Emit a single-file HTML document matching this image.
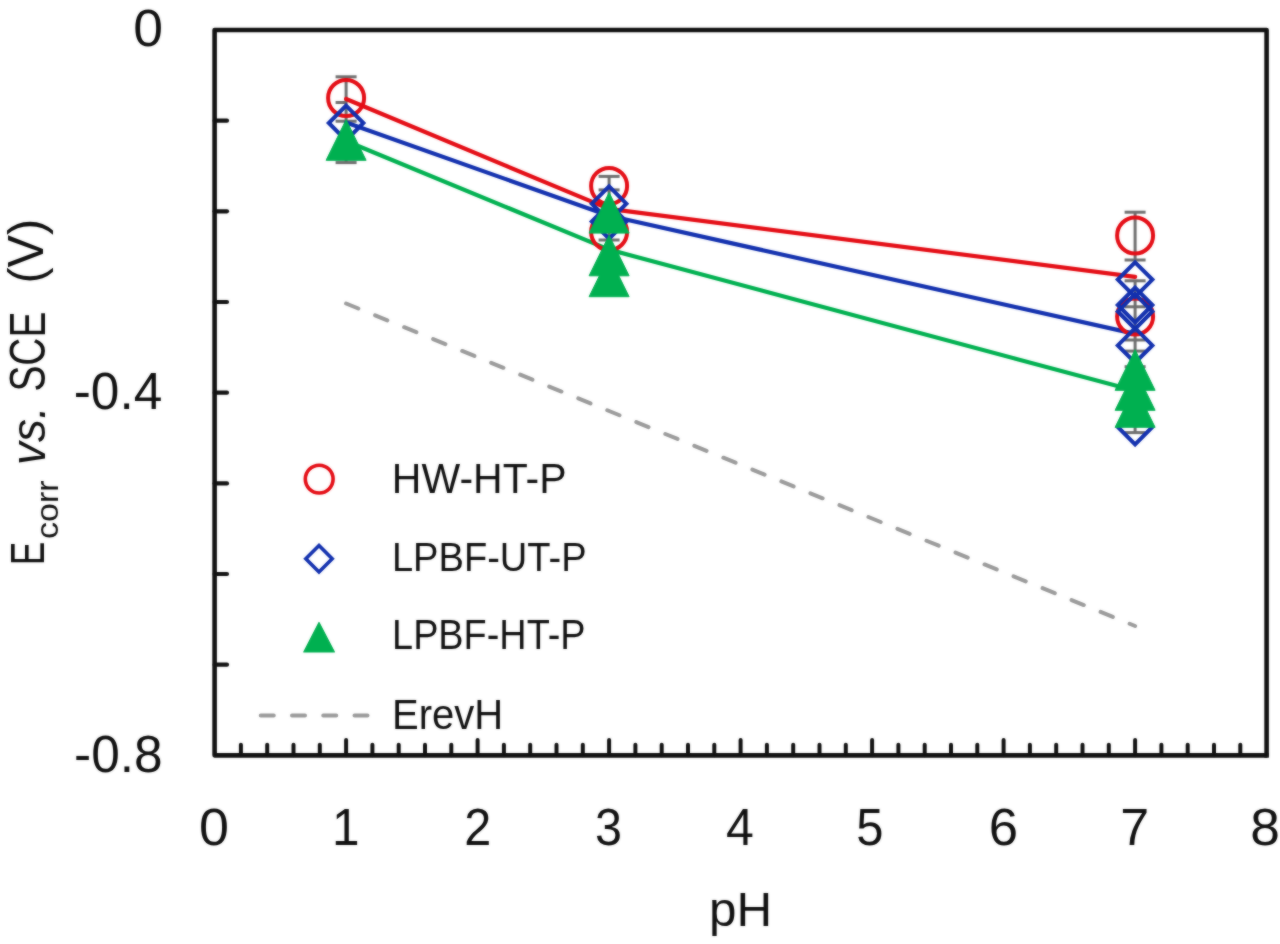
<!DOCTYPE html>
<html><head><meta charset="utf-8"><style>
html,body{margin:0;padding:0;background:#fff;}
body{width:1280px;height:944px;overflow:hidden;position:relative;}
svg{display:block;}
.l1,.l2,.l3{position:absolute;left:0;top:0;width:1280px;height:944px;}
.l1{will-change:transform;}
.l2{filter:blur(0.8px);opacity:0.5;}
.l3{filter:blur(0.8px);}
</style></head><body>
<div class="l1"><svg width="1280" height="944" viewBox="0 0 1280 944">
<rect width="1280" height="944" fill="#fff"/>
<line x1="346.1" y1="76.8" x2="346.1" y2="162.6" stroke="#6e6e6e" stroke-width="3"/>
<line x1="335.6" y1="76.8" x2="356.6" y2="76.8" stroke="#6e6e6e" stroke-width="3"/>
<line x1="335.6" y1="121.2" x2="356.6" y2="121.2" stroke="#6e6e6e" stroke-width="3"/>
<line x1="335.6" y1="162.6" x2="356.6" y2="162.6" stroke="#6e6e6e" stroke-width="3"/>
<line x1="335.6" y1="102.5" x2="346.1" y2="102.5" stroke="#6e6e6e" stroke-width="3"/>
<line x1="609.1" y1="176.4" x2="609.1" y2="240" stroke="#6e6e6e" stroke-width="3"/>
<line x1="598.6" y1="176.4" x2="619.6" y2="176.4" stroke="#6e6e6e" stroke-width="3"/>
<line x1="598.6" y1="189.9" x2="619.6" y2="189.9" stroke="#6e6e6e" stroke-width="3"/>
<line x1="598.6" y1="240" x2="619.6" y2="240" stroke="#6e6e6e" stroke-width="3"/>
<line x1="1135.1" y1="212.2" x2="1135.1" y2="260" stroke="#6e6e6e" stroke-width="3"/>
<line x1="1124.6" y1="212.2" x2="1145.6" y2="212.2" stroke="#6e6e6e" stroke-width="3"/>
<line x1="1124.6" y1="260" x2="1145.6" y2="260" stroke="#6e6e6e" stroke-width="3"/>
<line x1="1135.1" y1="280.8" x2="1135.1" y2="432.6" stroke="#6e6e6e" stroke-width="3"/>
<line x1="1124.6" y1="280.8" x2="1145.6" y2="280.8" stroke="#6e6e6e" stroke-width="3"/>
<line x1="1124.6" y1="306.8" x2="1145.6" y2="306.8" stroke="#6e6e6e" stroke-width="3"/>
<line x1="1124.6" y1="340" x2="1145.6" y2="340" stroke="#6e6e6e" stroke-width="3"/>
<line x1="1124.6" y1="351.1" x2="1145.6" y2="351.1" stroke="#6e6e6e" stroke-width="3"/>
<line x1="1124.6" y1="366.7" x2="1145.6" y2="366.7" stroke="#6e6e6e" stroke-width="3"/>
<line x1="1124.6" y1="432.6" x2="1145.6" y2="432.6" stroke="#6e6e6e" stroke-width="3"/>
<line x1="346.1" y1="303.5" x2="1135.1" y2="626" stroke="#9a9a9a" stroke-width="4" stroke-dasharray="13.2 18.15" stroke-linecap="round"/>
<polyline points="346.1,99 609.1,208.9 1135.1,276.8" fill="none" stroke="#e40c14" stroke-width="4.2" stroke-linecap="round" stroke-linejoin="round"/>
<polyline points="346.1,122.6 609.1,215.7 1135.1,333.9" fill="none" stroke="#1230ae" stroke-width="4.2" stroke-linecap="round" stroke-linejoin="round"/>
<polyline points="346.1,141 609.1,249.6 1135.1,390.8" fill="none" stroke="#00b050" stroke-width="4.2" stroke-linecap="round" stroke-linejoin="round"/>
<circle cx="346.1" cy="98" r="18" fill="none" stroke="#e40c14" stroke-width="4"/>
<circle cx="609.1" cy="185.9" r="18" fill="none" stroke="#e40c14" stroke-width="4"/>
<circle cx="609.1" cy="232" r="18" fill="none" stroke="#e40c14" stroke-width="4"/>
<circle cx="1135.1" cy="235.5" r="18" fill="none" stroke="#e40c14" stroke-width="4"/>
<circle cx="1135.1" cy="316.5" r="18" fill="none" stroke="#e40c14" stroke-width="4"/>
<path d="M346.1 105.7L363.40000000000003 123L346.1 140.3L328.8 123Z" fill="none" stroke="#1230ae" stroke-width="4" stroke-linejoin="miter"/>
<path d="M609.1 186.39999999999998L626.4 203.7L609.1 221.0L591.8000000000001 203.7Z" fill="none" stroke="#1230ae" stroke-width="4" stroke-linejoin="miter"/>
<path d="M609.1 204.1L626.4 221.4L609.1 238.70000000000002L591.8000000000001 221.4Z" fill="none" stroke="#1230ae" stroke-width="4" stroke-linejoin="miter"/>
<path d="M1135.1 262.3L1152.3999999999999 279.6L1135.1 296.90000000000003L1117.8 279.6Z" fill="none" stroke="#1230ae" stroke-width="4" stroke-linejoin="miter"/>
<path d="M1135.1 287.7L1152.3999999999999 305L1135.1 322.3L1117.8 305Z" fill="none" stroke="#1230ae" stroke-width="4" stroke-linejoin="miter"/>
<path d="M1135.1 294.2L1152.3999999999999 311.5L1135.1 328.8L1117.8 311.5Z" fill="none" stroke="#1230ae" stroke-width="4" stroke-linejoin="miter"/>
<path d="M1135.1 328.09999999999997L1152.3999999999999 345.4L1135.1 362.7L1117.8 345.4Z" fill="none" stroke="#1230ae" stroke-width="4" stroke-linejoin="miter"/>
<path d="M1135.1 409.7L1152.3999999999999 427L1135.1 444.3L1117.8 427Z" fill="none" stroke="#1230ae" stroke-width="4" stroke-linejoin="miter"/>
<path d="M346.1 119.7L366.1 160.3L326.1 160.3Z" fill="#00b050" stroke="#00b050" stroke-width="1" stroke-linejoin="round"/>
<path d="M609.1 192.5L629.1 233.10000000000002L589.1 233.10000000000002Z" fill="#00b050" stroke="#00b050" stroke-width="1" stroke-linejoin="round"/>
<path d="M609.1 235.2L629.1 275.8L589.1 275.8Z" fill="#00b050" stroke="#00b050" stroke-width="1" stroke-linejoin="round"/>
<path d="M609.1 256.09999999999997L629.1 296.7L589.1 296.7Z" fill="#00b050" stroke="#00b050" stroke-width="1" stroke-linejoin="round"/>
<path d="M1135.1 349.7L1155.1 390.3L1115.1 390.3Z" fill="#00b050" stroke="#00b050" stroke-width="1" stroke-linejoin="round"/>
<path d="M1135.1 369.7L1155.1 410.3L1115.1 410.3Z" fill="#00b050" stroke="#00b050" stroke-width="1" stroke-linejoin="round"/>
<path d="M1135.1 386.7L1155.1 427.3L1115.1 427.3Z" fill="#00b050" stroke="#00b050" stroke-width="1" stroke-linejoin="round"/>
<rect x="214.6" y="30.0" width="1052.0" height="725.3600000000001" fill="none" stroke="#111" stroke-width="4.6" stroke-linejoin="round"/>
<rect x="1264.3" y="753.1" width="4.6" height="4.6" fill="#111"/>
<line x1="214.6" y1="120.7" x2="227" y2="120.7" stroke="#111" stroke-width="4.2" stroke-linecap="round"/>
<line x1="214.6" y1="211.3" x2="227" y2="211.3" stroke="#111" stroke-width="4.2" stroke-linecap="round"/>
<line x1="214.6" y1="302.0" x2="227" y2="302.0" stroke="#111" stroke-width="4.2" stroke-linecap="round"/>
<line x1="214.6" y1="392.7" x2="227" y2="392.7" stroke="#111" stroke-width="4.2" stroke-linecap="round"/>
<line x1="214.6" y1="483.4" x2="227" y2="483.4" stroke="#111" stroke-width="4.2" stroke-linecap="round"/>
<line x1="214.6" y1="574.0" x2="227" y2="574.0" stroke="#111" stroke-width="4.2" stroke-linecap="round"/>
<line x1="214.6" y1="664.7" x2="227" y2="664.7" stroke="#111" stroke-width="4.2" stroke-linecap="round"/>
<line x1="240.9" y1="755.3600000000001" x2="240.9" y2="744.7" stroke="#111" stroke-width="4" stroke-linecap="round"/>
<line x1="267.2" y1="755.3600000000001" x2="267.2" y2="744.7" stroke="#111" stroke-width="4" stroke-linecap="round"/>
<line x1="293.5" y1="755.3600000000001" x2="293.5" y2="744.7" stroke="#111" stroke-width="4" stroke-linecap="round"/>
<line x1="319.8" y1="755.3600000000001" x2="319.8" y2="744.7" stroke="#111" stroke-width="4" stroke-linecap="round"/>
<line x1="346.1" y1="755.3600000000001" x2="346.1" y2="740" stroke="#111" stroke-width="4" stroke-linecap="round"/>
<line x1="372.4" y1="755.3600000000001" x2="372.4" y2="744.7" stroke="#111" stroke-width="4" stroke-linecap="round"/>
<line x1="398.7" y1="755.3600000000001" x2="398.7" y2="744.7" stroke="#111" stroke-width="4" stroke-linecap="round"/>
<line x1="425.0" y1="755.3600000000001" x2="425.0" y2="744.7" stroke="#111" stroke-width="4" stroke-linecap="round"/>
<line x1="451.3" y1="755.3600000000001" x2="451.3" y2="744.7" stroke="#111" stroke-width="4" stroke-linecap="round"/>
<line x1="477.6" y1="755.3600000000001" x2="477.6" y2="740" stroke="#111" stroke-width="4" stroke-linecap="round"/>
<line x1="503.9" y1="755.3600000000001" x2="503.9" y2="744.7" stroke="#111" stroke-width="4" stroke-linecap="round"/>
<line x1="530.2" y1="755.3600000000001" x2="530.2" y2="744.7" stroke="#111" stroke-width="4" stroke-linecap="round"/>
<line x1="556.5" y1="755.3600000000001" x2="556.5" y2="744.7" stroke="#111" stroke-width="4" stroke-linecap="round"/>
<line x1="582.8" y1="755.3600000000001" x2="582.8" y2="744.7" stroke="#111" stroke-width="4" stroke-linecap="round"/>
<line x1="609.1" y1="755.3600000000001" x2="609.1" y2="740" stroke="#111" stroke-width="4" stroke-linecap="round"/>
<line x1="635.4" y1="755.3600000000001" x2="635.4" y2="744.7" stroke="#111" stroke-width="4" stroke-linecap="round"/>
<line x1="661.7" y1="755.3600000000001" x2="661.7" y2="744.7" stroke="#111" stroke-width="4" stroke-linecap="round"/>
<line x1="688.0" y1="755.3600000000001" x2="688.0" y2="744.7" stroke="#111" stroke-width="4" stroke-linecap="round"/>
<line x1="714.3" y1="755.3600000000001" x2="714.3" y2="744.7" stroke="#111" stroke-width="4" stroke-linecap="round"/>
<line x1="740.6" y1="755.3600000000001" x2="740.6" y2="740" stroke="#111" stroke-width="4" stroke-linecap="round"/>
<line x1="766.9" y1="755.3600000000001" x2="766.9" y2="744.7" stroke="#111" stroke-width="4" stroke-linecap="round"/>
<line x1="793.2" y1="755.3600000000001" x2="793.2" y2="744.7" stroke="#111" stroke-width="4" stroke-linecap="round"/>
<line x1="819.5" y1="755.3600000000001" x2="819.5" y2="744.7" stroke="#111" stroke-width="4" stroke-linecap="round"/>
<line x1="845.8" y1="755.3600000000001" x2="845.8" y2="744.7" stroke="#111" stroke-width="4" stroke-linecap="round"/>
<line x1="872.1" y1="755.3600000000001" x2="872.1" y2="740" stroke="#111" stroke-width="4" stroke-linecap="round"/>
<line x1="898.4" y1="755.3600000000001" x2="898.4" y2="744.7" stroke="#111" stroke-width="4" stroke-linecap="round"/>
<line x1="924.7" y1="755.3600000000001" x2="924.7" y2="744.7" stroke="#111" stroke-width="4" stroke-linecap="round"/>
<line x1="951.0" y1="755.3600000000001" x2="951.0" y2="744.7" stroke="#111" stroke-width="4" stroke-linecap="round"/>
<line x1="977.3" y1="755.3600000000001" x2="977.3" y2="744.7" stroke="#111" stroke-width="4" stroke-linecap="round"/>
<line x1="1003.6" y1="755.3600000000001" x2="1003.6" y2="740" stroke="#111" stroke-width="4" stroke-linecap="round"/>
<line x1="1029.9" y1="755.3600000000001" x2="1029.9" y2="744.7" stroke="#111" stroke-width="4" stroke-linecap="round"/>
<line x1="1056.2" y1="755.3600000000001" x2="1056.2" y2="744.7" stroke="#111" stroke-width="4" stroke-linecap="round"/>
<line x1="1082.5" y1="755.3600000000001" x2="1082.5" y2="744.7" stroke="#111" stroke-width="4" stroke-linecap="round"/>
<line x1="1108.8" y1="755.3600000000001" x2="1108.8" y2="744.7" stroke="#111" stroke-width="4" stroke-linecap="round"/>
<line x1="1135.1" y1="755.3600000000001" x2="1135.1" y2="740" stroke="#111" stroke-width="4" stroke-linecap="round"/>
<line x1="1161.4" y1="755.3600000000001" x2="1161.4" y2="744.7" stroke="#111" stroke-width="4" stroke-linecap="round"/>
<line x1="1187.7" y1="755.3600000000001" x2="1187.7" y2="744.7" stroke="#111" stroke-width="4" stroke-linecap="round"/>
<line x1="1214.0" y1="755.3600000000001" x2="1214.0" y2="744.7" stroke="#111" stroke-width="4" stroke-linecap="round"/>
<line x1="1240.3" y1="755.3600000000001" x2="1240.3" y2="744.7" stroke="#111" stroke-width="4" stroke-linecap="round"/>
<circle cx="319.2" cy="479.1" r="13.9" fill="none" stroke="#e40c14" stroke-width="3.6"/>
<path d="M319 545.5999999999999L332.2 558.8L319 572.0L305.8 558.8Z" fill="none" stroke="#1230ae" stroke-width="3.6" stroke-linejoin="miter"/>
<path d="M319 622.5L334.4 652L303.8 652Z" fill="#00b050" stroke="#00b050" stroke-width="1.2" stroke-linejoin="round"/>
<line x1="260.75" y1="715.5" x2="368" y2="715.5" stroke="#9a9a9a" stroke-width="4" stroke-dasharray="13 18.25" stroke-linecap="round"/>
<g font-family="Liberation Sans, sans-serif" fill="#111">
<text x="391.80" y="492.60" font-size="43.17" textLength="174.70" lengthAdjust="spacingAndGlyphs">HW-HT-P</text>
<text x="391.90" y="570.70" font-size="41.22" textLength="194.68" lengthAdjust="spacingAndGlyphs">LPBF-UT-P</text>
<text x="392.10" y="648.90" font-size="43.17" textLength="193.39" lengthAdjust="spacingAndGlyphs">LPBF-HT-P</text>
<text x="392.10" y="729.30" font-size="42.91" textLength="111.15" lengthAdjust="spacingAndGlyphs">ErevH</text>
<text x="133.30" y="45.50" font-size="52.29" textLength="29.77" lengthAdjust="spacingAndGlyphs">0</text>
<text x="73.70" y="408.70" font-size="51.46" textLength="88.59" lengthAdjust="spacingAndGlyphs">-0.4</text>
<text x="74.10" y="772.20" font-size="50.88" textLength="88.60" lengthAdjust="spacingAndGlyphs">-0.8</text>
<text x="709.00" y="926.00" font-size="48.93" textLength="63.16" lengthAdjust="spacingAndGlyphs">pH</text>
<text x="199.10" y="844.70" font-size="50.88" textLength="29.99" lengthAdjust="spacingAndGlyphs">0</text>
<text x="332.00" y="844.70" font-size="50.88" textLength="27.53" lengthAdjust="spacingAndGlyphs">1</text>
<text x="464.25" y="844.70" font-size="50.88" textLength="27.03" lengthAdjust="spacingAndGlyphs">2</text>
<text x="595.00" y="844.70" font-size="50.88" textLength="26.97" lengthAdjust="spacingAndGlyphs">3</text>
<text x="726.00" y="844.70" font-size="50.88" textLength="27.84" lengthAdjust="spacingAndGlyphs">4</text>
<text x="856.25" y="844.70" font-size="50.88" textLength="27.23" lengthAdjust="spacingAndGlyphs">5</text>
<text x="988.75" y="844.70" font-size="50.88" textLength="29.31" lengthAdjust="spacingAndGlyphs">6</text>
<text x="1120.20" y="844.70" font-size="50.88" textLength="28.93" lengthAdjust="spacingAndGlyphs">7</text>
<text x="1250.20" y="844.70" font-size="50.88" textLength="29.64" lengthAdjust="spacingAndGlyphs">8</text>
<g transform="translate(46,563) rotate(-90)">
<text x="-1.90" y="-1.80" font-size="48.44" textLength="23.32" lengthAdjust="spacingAndGlyphs">E</text>
<text x="24.00" y="12.20" font-size="31.70" textLength="58.62" lengthAdjust="spacingAndGlyphs">corr</text>
<text x="98.10" y="-0.80" font-size="48.75" font-style="italic" textLength="58.58" lengthAdjust="spacingAndGlyphs">vs.</text>
<text x="171.40" y="-1.00" font-size="50.00" textLength="79.96" lengthAdjust="spacingAndGlyphs">SCE</text>
<text x="279.40" y="-2.80" font-size="49.81" textLength="64.67" lengthAdjust="spacingAndGlyphs">(V)</text>
</g>
</g>
</svg></div><div class="l2"><svg width="1280" height="944" viewBox="0 0 1280 944">
<rect width="1280" height="944" fill="#fff"/>
<line x1="346.1" y1="76.8" x2="346.1" y2="162.6" stroke="#6e6e6e" stroke-width="3"/>
<line x1="335.6" y1="76.8" x2="356.6" y2="76.8" stroke="#6e6e6e" stroke-width="3"/>
<line x1="335.6" y1="121.2" x2="356.6" y2="121.2" stroke="#6e6e6e" stroke-width="3"/>
<line x1="335.6" y1="162.6" x2="356.6" y2="162.6" stroke="#6e6e6e" stroke-width="3"/>
<line x1="335.6" y1="102.5" x2="346.1" y2="102.5" stroke="#6e6e6e" stroke-width="3"/>
<line x1="609.1" y1="176.4" x2="609.1" y2="240" stroke="#6e6e6e" stroke-width="3"/>
<line x1="598.6" y1="176.4" x2="619.6" y2="176.4" stroke="#6e6e6e" stroke-width="3"/>
<line x1="598.6" y1="189.9" x2="619.6" y2="189.9" stroke="#6e6e6e" stroke-width="3"/>
<line x1="598.6" y1="240" x2="619.6" y2="240" stroke="#6e6e6e" stroke-width="3"/>
<line x1="1135.1" y1="212.2" x2="1135.1" y2="260" stroke="#6e6e6e" stroke-width="3"/>
<line x1="1124.6" y1="212.2" x2="1145.6" y2="212.2" stroke="#6e6e6e" stroke-width="3"/>
<line x1="1124.6" y1="260" x2="1145.6" y2="260" stroke="#6e6e6e" stroke-width="3"/>
<line x1="1135.1" y1="280.8" x2="1135.1" y2="432.6" stroke="#6e6e6e" stroke-width="3"/>
<line x1="1124.6" y1="280.8" x2="1145.6" y2="280.8" stroke="#6e6e6e" stroke-width="3"/>
<line x1="1124.6" y1="306.8" x2="1145.6" y2="306.8" stroke="#6e6e6e" stroke-width="3"/>
<line x1="1124.6" y1="340" x2="1145.6" y2="340" stroke="#6e6e6e" stroke-width="3"/>
<line x1="1124.6" y1="351.1" x2="1145.6" y2="351.1" stroke="#6e6e6e" stroke-width="3"/>
<line x1="1124.6" y1="366.7" x2="1145.6" y2="366.7" stroke="#6e6e6e" stroke-width="3"/>
<line x1="1124.6" y1="432.6" x2="1145.6" y2="432.6" stroke="#6e6e6e" stroke-width="3"/>
<line x1="346.1" y1="303.5" x2="1135.1" y2="626" stroke="#9a9a9a" stroke-width="4" stroke-dasharray="13.2 18.15" stroke-linecap="round"/>
<polyline points="346.1,99 609.1,208.9 1135.1,276.8" fill="none" stroke="#e40c14" stroke-width="4.2" stroke-linecap="round" stroke-linejoin="round"/>
<polyline points="346.1,122.6 609.1,215.7 1135.1,333.9" fill="none" stroke="#1230ae" stroke-width="4.2" stroke-linecap="round" stroke-linejoin="round"/>
<polyline points="346.1,141 609.1,249.6 1135.1,390.8" fill="none" stroke="#00b050" stroke-width="4.2" stroke-linecap="round" stroke-linejoin="round"/>
<circle cx="346.1" cy="98" r="18" fill="none" stroke="#e40c14" stroke-width="4"/>
<circle cx="609.1" cy="185.9" r="18" fill="none" stroke="#e40c14" stroke-width="4"/>
<circle cx="609.1" cy="232" r="18" fill="none" stroke="#e40c14" stroke-width="4"/>
<circle cx="1135.1" cy="235.5" r="18" fill="none" stroke="#e40c14" stroke-width="4"/>
<circle cx="1135.1" cy="316.5" r="18" fill="none" stroke="#e40c14" stroke-width="4"/>
<path d="M346.1 105.7L363.40000000000003 123L346.1 140.3L328.8 123Z" fill="none" stroke="#1230ae" stroke-width="4" stroke-linejoin="miter"/>
<path d="M609.1 186.39999999999998L626.4 203.7L609.1 221.0L591.8000000000001 203.7Z" fill="none" stroke="#1230ae" stroke-width="4" stroke-linejoin="miter"/>
<path d="M609.1 204.1L626.4 221.4L609.1 238.70000000000002L591.8000000000001 221.4Z" fill="none" stroke="#1230ae" stroke-width="4" stroke-linejoin="miter"/>
<path d="M1135.1 262.3L1152.3999999999999 279.6L1135.1 296.90000000000003L1117.8 279.6Z" fill="none" stroke="#1230ae" stroke-width="4" stroke-linejoin="miter"/>
<path d="M1135.1 287.7L1152.3999999999999 305L1135.1 322.3L1117.8 305Z" fill="none" stroke="#1230ae" stroke-width="4" stroke-linejoin="miter"/>
<path d="M1135.1 294.2L1152.3999999999999 311.5L1135.1 328.8L1117.8 311.5Z" fill="none" stroke="#1230ae" stroke-width="4" stroke-linejoin="miter"/>
<path d="M1135.1 328.09999999999997L1152.3999999999999 345.4L1135.1 362.7L1117.8 345.4Z" fill="none" stroke="#1230ae" stroke-width="4" stroke-linejoin="miter"/>
<path d="M1135.1 409.7L1152.3999999999999 427L1135.1 444.3L1117.8 427Z" fill="none" stroke="#1230ae" stroke-width="4" stroke-linejoin="miter"/>
<path d="M346.1 119.7L366.1 160.3L326.1 160.3Z" fill="#00b050" stroke="#00b050" stroke-width="1" stroke-linejoin="round"/>
<path d="M609.1 192.5L629.1 233.10000000000002L589.1 233.10000000000002Z" fill="#00b050" stroke="#00b050" stroke-width="1" stroke-linejoin="round"/>
<path d="M609.1 235.2L629.1 275.8L589.1 275.8Z" fill="#00b050" stroke="#00b050" stroke-width="1" stroke-linejoin="round"/>
<path d="M609.1 256.09999999999997L629.1 296.7L589.1 296.7Z" fill="#00b050" stroke="#00b050" stroke-width="1" stroke-linejoin="round"/>
<path d="M1135.1 349.7L1155.1 390.3L1115.1 390.3Z" fill="#00b050" stroke="#00b050" stroke-width="1" stroke-linejoin="round"/>
<path d="M1135.1 369.7L1155.1 410.3L1115.1 410.3Z" fill="#00b050" stroke="#00b050" stroke-width="1" stroke-linejoin="round"/>
<path d="M1135.1 386.7L1155.1 427.3L1115.1 427.3Z" fill="#00b050" stroke="#00b050" stroke-width="1" stroke-linejoin="round"/>
<rect x="214.6" y="30.0" width="1052.0" height="725.3600000000001" fill="none" stroke="#111" stroke-width="4.6" stroke-linejoin="round"/>
<rect x="1264.3" y="753.1" width="4.6" height="4.6" fill="#111"/>
<line x1="214.6" y1="120.7" x2="227" y2="120.7" stroke="#111" stroke-width="4.2" stroke-linecap="round"/>
<line x1="214.6" y1="211.3" x2="227" y2="211.3" stroke="#111" stroke-width="4.2" stroke-linecap="round"/>
<line x1="214.6" y1="302.0" x2="227" y2="302.0" stroke="#111" stroke-width="4.2" stroke-linecap="round"/>
<line x1="214.6" y1="392.7" x2="227" y2="392.7" stroke="#111" stroke-width="4.2" stroke-linecap="round"/>
<line x1="214.6" y1="483.4" x2="227" y2="483.4" stroke="#111" stroke-width="4.2" stroke-linecap="round"/>
<line x1="214.6" y1="574.0" x2="227" y2="574.0" stroke="#111" stroke-width="4.2" stroke-linecap="round"/>
<line x1="214.6" y1="664.7" x2="227" y2="664.7" stroke="#111" stroke-width="4.2" stroke-linecap="round"/>
<line x1="240.9" y1="755.3600000000001" x2="240.9" y2="744.7" stroke="#111" stroke-width="4" stroke-linecap="round"/>
<line x1="267.2" y1="755.3600000000001" x2="267.2" y2="744.7" stroke="#111" stroke-width="4" stroke-linecap="round"/>
<line x1="293.5" y1="755.3600000000001" x2="293.5" y2="744.7" stroke="#111" stroke-width="4" stroke-linecap="round"/>
<line x1="319.8" y1="755.3600000000001" x2="319.8" y2="744.7" stroke="#111" stroke-width="4" stroke-linecap="round"/>
<line x1="346.1" y1="755.3600000000001" x2="346.1" y2="740" stroke="#111" stroke-width="4" stroke-linecap="round"/>
<line x1="372.4" y1="755.3600000000001" x2="372.4" y2="744.7" stroke="#111" stroke-width="4" stroke-linecap="round"/>
<line x1="398.7" y1="755.3600000000001" x2="398.7" y2="744.7" stroke="#111" stroke-width="4" stroke-linecap="round"/>
<line x1="425.0" y1="755.3600000000001" x2="425.0" y2="744.7" stroke="#111" stroke-width="4" stroke-linecap="round"/>
<line x1="451.3" y1="755.3600000000001" x2="451.3" y2="744.7" stroke="#111" stroke-width="4" stroke-linecap="round"/>
<line x1="477.6" y1="755.3600000000001" x2="477.6" y2="740" stroke="#111" stroke-width="4" stroke-linecap="round"/>
<line x1="503.9" y1="755.3600000000001" x2="503.9" y2="744.7" stroke="#111" stroke-width="4" stroke-linecap="round"/>
<line x1="530.2" y1="755.3600000000001" x2="530.2" y2="744.7" stroke="#111" stroke-width="4" stroke-linecap="round"/>
<line x1="556.5" y1="755.3600000000001" x2="556.5" y2="744.7" stroke="#111" stroke-width="4" stroke-linecap="round"/>
<line x1="582.8" y1="755.3600000000001" x2="582.8" y2="744.7" stroke="#111" stroke-width="4" stroke-linecap="round"/>
<line x1="609.1" y1="755.3600000000001" x2="609.1" y2="740" stroke="#111" stroke-width="4" stroke-linecap="round"/>
<line x1="635.4" y1="755.3600000000001" x2="635.4" y2="744.7" stroke="#111" stroke-width="4" stroke-linecap="round"/>
<line x1="661.7" y1="755.3600000000001" x2="661.7" y2="744.7" stroke="#111" stroke-width="4" stroke-linecap="round"/>
<line x1="688.0" y1="755.3600000000001" x2="688.0" y2="744.7" stroke="#111" stroke-width="4" stroke-linecap="round"/>
<line x1="714.3" y1="755.3600000000001" x2="714.3" y2="744.7" stroke="#111" stroke-width="4" stroke-linecap="round"/>
<line x1="740.6" y1="755.3600000000001" x2="740.6" y2="740" stroke="#111" stroke-width="4" stroke-linecap="round"/>
<line x1="766.9" y1="755.3600000000001" x2="766.9" y2="744.7" stroke="#111" stroke-width="4" stroke-linecap="round"/>
<line x1="793.2" y1="755.3600000000001" x2="793.2" y2="744.7" stroke="#111" stroke-width="4" stroke-linecap="round"/>
<line x1="819.5" y1="755.3600000000001" x2="819.5" y2="744.7" stroke="#111" stroke-width="4" stroke-linecap="round"/>
<line x1="845.8" y1="755.3600000000001" x2="845.8" y2="744.7" stroke="#111" stroke-width="4" stroke-linecap="round"/>
<line x1="872.1" y1="755.3600000000001" x2="872.1" y2="740" stroke="#111" stroke-width="4" stroke-linecap="round"/>
<line x1="898.4" y1="755.3600000000001" x2="898.4" y2="744.7" stroke="#111" stroke-width="4" stroke-linecap="round"/>
<line x1="924.7" y1="755.3600000000001" x2="924.7" y2="744.7" stroke="#111" stroke-width="4" stroke-linecap="round"/>
<line x1="951.0" y1="755.3600000000001" x2="951.0" y2="744.7" stroke="#111" stroke-width="4" stroke-linecap="round"/>
<line x1="977.3" y1="755.3600000000001" x2="977.3" y2="744.7" stroke="#111" stroke-width="4" stroke-linecap="round"/>
<line x1="1003.6" y1="755.3600000000001" x2="1003.6" y2="740" stroke="#111" stroke-width="4" stroke-linecap="round"/>
<line x1="1029.9" y1="755.3600000000001" x2="1029.9" y2="744.7" stroke="#111" stroke-width="4" stroke-linecap="round"/>
<line x1="1056.2" y1="755.3600000000001" x2="1056.2" y2="744.7" stroke="#111" stroke-width="4" stroke-linecap="round"/>
<line x1="1082.5" y1="755.3600000000001" x2="1082.5" y2="744.7" stroke="#111" stroke-width="4" stroke-linecap="round"/>
<line x1="1108.8" y1="755.3600000000001" x2="1108.8" y2="744.7" stroke="#111" stroke-width="4" stroke-linecap="round"/>
<line x1="1135.1" y1="755.3600000000001" x2="1135.1" y2="740" stroke="#111" stroke-width="4" stroke-linecap="round"/>
<line x1="1161.4" y1="755.3600000000001" x2="1161.4" y2="744.7" stroke="#111" stroke-width="4" stroke-linecap="round"/>
<line x1="1187.7" y1="755.3600000000001" x2="1187.7" y2="744.7" stroke="#111" stroke-width="4" stroke-linecap="round"/>
<line x1="1214.0" y1="755.3600000000001" x2="1214.0" y2="744.7" stroke="#111" stroke-width="4" stroke-linecap="round"/>
<line x1="1240.3" y1="755.3600000000001" x2="1240.3" y2="744.7" stroke="#111" stroke-width="4" stroke-linecap="round"/>
<circle cx="319.2" cy="479.1" r="13.9" fill="none" stroke="#e40c14" stroke-width="3.6"/>
<path d="M319 545.5999999999999L332.2 558.8L319 572.0L305.8 558.8Z" fill="none" stroke="#1230ae" stroke-width="3.6" stroke-linejoin="miter"/>
<path d="M319 622.5L334.4 652L303.8 652Z" fill="#00b050" stroke="#00b050" stroke-width="1.2" stroke-linejoin="round"/>
<line x1="260.75" y1="715.5" x2="368" y2="715.5" stroke="#9a9a9a" stroke-width="4" stroke-dasharray="13 18.25" stroke-linecap="round"/>
<g font-family="Liberation Sans, sans-serif" fill="#111">
<text x="391.80" y="492.60" font-size="43.17" textLength="174.70" lengthAdjust="spacingAndGlyphs">HW-HT-P</text>
<text x="391.90" y="570.70" font-size="41.22" textLength="194.68" lengthAdjust="spacingAndGlyphs">LPBF-UT-P</text>
<text x="392.10" y="648.90" font-size="43.17" textLength="193.39" lengthAdjust="spacingAndGlyphs">LPBF-HT-P</text>
<text x="392.10" y="729.30" font-size="42.91" textLength="111.15" lengthAdjust="spacingAndGlyphs">ErevH</text>
<text x="133.30" y="45.50" font-size="52.29" textLength="29.77" lengthAdjust="spacingAndGlyphs">0</text>
<text x="73.70" y="408.70" font-size="51.46" textLength="88.59" lengthAdjust="spacingAndGlyphs">-0.4</text>
<text x="74.10" y="772.20" font-size="50.88" textLength="88.60" lengthAdjust="spacingAndGlyphs">-0.8</text>
<text x="709.00" y="926.00" font-size="48.93" textLength="63.16" lengthAdjust="spacingAndGlyphs">pH</text>
<text x="199.10" y="844.70" font-size="50.88" textLength="29.99" lengthAdjust="spacingAndGlyphs">0</text>
<text x="332.00" y="844.70" font-size="50.88" textLength="27.53" lengthAdjust="spacingAndGlyphs">1</text>
<text x="464.25" y="844.70" font-size="50.88" textLength="27.03" lengthAdjust="spacingAndGlyphs">2</text>
<text x="595.00" y="844.70" font-size="50.88" textLength="26.97" lengthAdjust="spacingAndGlyphs">3</text>
<text x="726.00" y="844.70" font-size="50.88" textLength="27.84" lengthAdjust="spacingAndGlyphs">4</text>
<text x="856.25" y="844.70" font-size="50.88" textLength="27.23" lengthAdjust="spacingAndGlyphs">5</text>
<text x="988.75" y="844.70" font-size="50.88" textLength="29.31" lengthAdjust="spacingAndGlyphs">6</text>
<text x="1120.20" y="844.70" font-size="50.88" textLength="28.93" lengthAdjust="spacingAndGlyphs">7</text>
<text x="1250.20" y="844.70" font-size="50.88" textLength="29.64" lengthAdjust="spacingAndGlyphs">8</text>
<g transform="translate(46,563) rotate(-90)">
<text x="-1.90" y="-1.80" font-size="48.44" textLength="23.32" lengthAdjust="spacingAndGlyphs">E</text>
<text x="24.00" y="12.20" font-size="31.70" textLength="58.62" lengthAdjust="spacingAndGlyphs">corr</text>
<text x="98.10" y="-0.80" font-size="48.75" font-style="italic" textLength="58.58" lengthAdjust="spacingAndGlyphs">vs.</text>
<text x="171.40" y="-1.00" font-size="50.00" textLength="79.96" lengthAdjust="spacingAndGlyphs">SCE</text>
<text x="279.40" y="-2.80" font-size="49.81" textLength="64.67" lengthAdjust="spacingAndGlyphs">(V)</text>
</g>
</g>
</svg></div>
</body></html>
